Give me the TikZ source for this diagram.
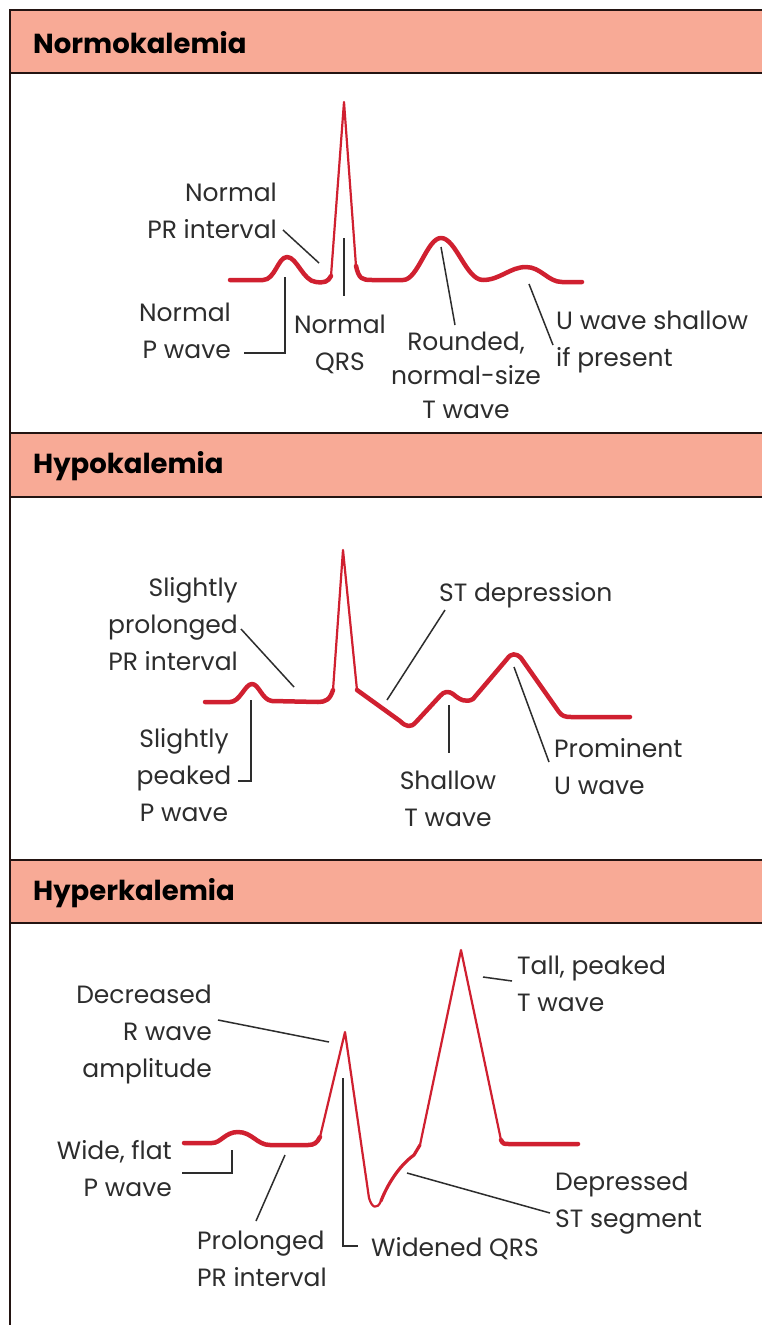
\documentclass[tikz,border=0pt]{standalone}
\usepackage{fontspec}
\setmainfont{Poppins}
\definecolor{salmon}{RGB}{248,170,150}
\definecolor{ecgred}{RGB}{208,32,48}
\definecolor{inkc}{RGB}{45,45,45}
\definecolor{framec}{RGB}{35,20,18}
\newcommand{\lblfont}{\fontsize{25}{37}\selectfont}
\newcommand{\lbltight}{\fontsize{25}{34}\selectfont}
\newcommand{\hdrfont}{\fontsize{27.5}{30}\selectfont\bfseries}
\begin{document}
\begin{tikzpicture}[x=1pt,y=-1pt,
  ecg/.style={draw=ecgred, line width=4.5pt, line join=round, line cap=round},
  spike/.style={draw=ecgred, line width=2.2pt, line join=round, line cap=round},
  lead/.style={draw=inkc, line width=1.5pt},
  lbl/.style={font=\lblfont, text=inkc, inner sep=0pt},
  hdr/.style={font=\hdrfont, text=black, inner sep=0pt, anchor=west},
  band/.style={fill=salmon},
  rule/.style={draw=framec, line width=2.6pt}]
\useasboundingbox (0,0) rectangle (762,1325);
\fill[white] (0,0) rectangle (762,1325);
\clip (0,0) rectangle (762,1325);
% header bands
\fill[band] (10,10) rectangle (780,73);
\fill[band] (10,433) rectangle (780,497);
\fill[band] (10,860) rectangle (780,923);
\draw[rule] (10,1340) -- (10,10) -- (780,10);
\draw[rule] (10,73) -- (780,73);
\draw[rule] (10,433) -- (780,433);
\draw[rule] (10,497) -- (780,497);
\draw[rule] (10,860) -- (780,860);
\draw[rule] (10,923) -- (780,923);
\node[hdr] (h1) at (33,43) {Normokalemia};
\node[hdr] (h2) at (33,466) {Hypokalemia};
\node[hdr] (h3) at (33,893) {Hyperkalemia};

% ================= Normokalemia =================
\draw[ecg] (230,280) -- (263,280) .. controls (275,280) and (278,257) .. (287,257)
  .. controls (297,257) and (303,281) .. (316,282) .. controls (324,283) and (328,282) .. (331,276);
\draw[spike] (331,276) -- (344,102) -- (356,266);
\draw[ecg] (356,266) .. controls (359,279) and (362,280) .. (372,280) -- (403,280)
  .. controls (418,280) and (427,238) .. (441,238) .. controls (456,238) and (466,280) .. (483,280)
  .. controls (500,280) and (510,267) .. (526,267) .. controls (541,267) and (548,282) .. (562,282) -- (582,282);

\coordinate (nPRt) at (319,263);
\coordinate (nPt) at (285,277);
\coordinate (nQt) at (344,238);
\coordinate (nTt) at (441,247);
\coordinate (nUt) at (529,284);

\node[lbl, align=right, anchor=base east] (nPR) at (277,238) {Normal\\PR interval};
\node[lbl, align=right, anchor=base east] (nP) at (231,358) {Normal\\P wave};
\node[lbl, align=center, anchor=base] (nQ) at (340,370) {Normal\\QRS};
\node[lbl, font=\lbltight, align=center, anchor=base] (nT) at (466,418) {Rounded,\\normal-size\\T wave};
\node[lbl, align=left, anchor=base west] (nU) at (556,366) {U wave shallow\\if present};

\draw[lead] (283,230) -- (nPRt);
\draw[lead] (244,353) -- (285,353) -- (nPt);
\draw[lead] (nQt) -- (344,296);
\draw[lead] (nTt) -- (455,325);
\draw[lead] (nUt) -- (553,345);

% ================= Hypokalemia =================
\draw[ecg] (205,702) -- (230,702) .. controls (240,702) and (245,684) .. (252,684)
  .. controls (259,684) and (262,700) .. (272,701) -- (318,702) .. controls (325,702) and (330,700) .. (333,690);
\draw[spike] (333,690) -- (343,550) -- (357,690);
\draw[ecg] (357,690) -- (400,721) .. controls (406,727) and (411,728) .. (416,722) -- (440,696)
  .. controls (444,691) and (449,691) .. (453,694) .. controls (460,700) and (466,703) .. (473,699)
  -- (507,659) .. controls (511,653) and (516,653) .. (521,658) -- (559,712)
  .. controls (562,716) and (565,717) .. (571,717) -- (630,717);

\coordinate (oPRt) at (294,687);
\coordinate (oPt) at (251,700);
\coordinate (oSTt) at (387,700);
\coordinate (oTt) at (449,705);
\coordinate (oUt) at (514,667);

\node[lbl, align=right, anchor=base east] (oPR) at (238,670) {Slightly\\prolonged\\PR interval};
\node[lbl, align=center, anchor=base] (oP) at (184,821) {Slightly\\peaked\\P wave};
\node[lbl, anchor=base west] (oST) at (439,601) {ST depression};
\node[lbl, align=center, anchor=base] (oT) at (448,826) {Shallow\\T wave};
\node[lbl, align=left, anchor=base west] (oU) at (554,794) {Prominent\\U wave};

\draw[lead] (241,629) -- (oPRt);
\draw[lead] (238,781) -- (251,781) -- (oPt);
\draw[lead] (445,610) -- (oSTt);
\draw[lead] (oTt) -- (449,753);
\draw[lead] (oUt) -- (549,762);

% ================= Hyperkalemia =================
\draw[ecg] (184,1143) -- (212,1143) .. controls (221,1143) and (225,1132) .. (238,1132)
  .. controls (252,1132) and (257,1145) .. (270,1145) -- (308,1145) .. controls (314,1145) and (317,1143) .. (320,1137);
\draw[spike] (320,1137) -- (345,1032) -- (369,1198) .. controls (372,1208) and (377,1210) .. (381,1201);
\draw[ecgred, line width=3.2pt, line join=round, line cap=round] (381,1201)
  .. controls (388,1183) and (400,1165) .. (414,1155) -- (420,1145);
\draw[spike] (420,1145) -- (461,950) -- (501,1140);
\draw[ecg] (501,1140) .. controls (503,1144) and (504,1144) .. (509,1144) -- (578,1144);

\coordinate (rRt) at (329,1042);
\coordinate (rTt) at (483,977);
\coordinate (rPt) at (232,1150);
\coordinate (rPRt) at (285,1155);
\coordinate (rQt) at (343,1078);
\coordinate (rSTt) at (407,1173);

\node[lbl, align=right, anchor=base east] (rR) at (212,1077) {Decreased\\R wave\\amplitude};
\node[lbl, align=left, anchor=base west] (rT) at (517,1011) {Tall, peaked\\T wave};
\node[lbl, align=right, anchor=base east] (rP) at (172,1196) {Wide, flat\\P wave};
\node[lbl, align=left, anchor=base west] (rPR) at (197,1286) {Prolonged\\PR interval};
\node[lbl, anchor=base west] (rQ) at (371,1256) {Widened QRS};
\node[lbl, align=left, anchor=base west] (rST) at (555,1227) {Depressed\\ST segment};

\draw[lead] (218,1020) -- (rRt);
\draw[lead] (rTt) -- (512,981);
\draw[lead] (182,1173) -- (232,1173) -- (rPt);
\draw[lead] (rPRt) -- (256,1221);
\draw[lead] (rQt) -- (343,1246) -- (358,1246);
\draw[lead] (rSTt) -- (550,1213);
\end{tikzpicture}
\end{document}
